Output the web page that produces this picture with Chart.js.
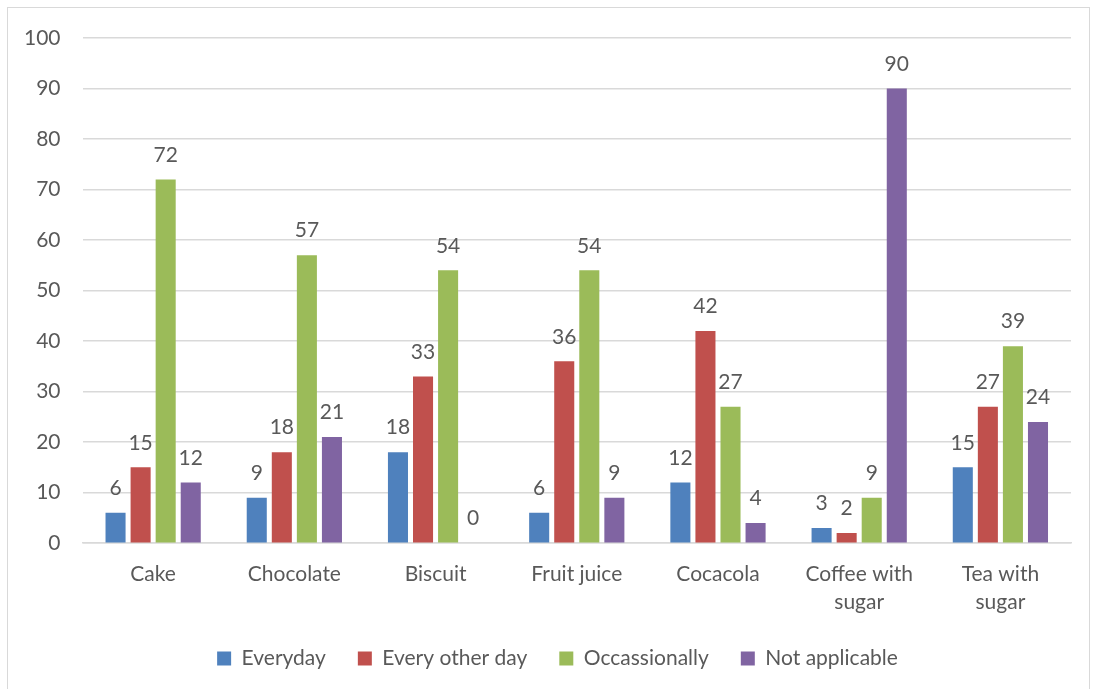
<!DOCTYPE html>
<html lang="en">
  <head>
    <meta charset="UTF-8" />
    <title>Sugar consumption frequency</title>
    <script src="https://cdn.jsdelivr.net/npm/chart.js@4"></script>
    <style>
      body { margin: 0; background: #fff; overflow: hidden; }
      #frame {
        position: absolute; left: 7px; top: 7px;
        width: 1083px; height: 690px;
        border: 1px solid #d9d9d9; box-sizing: border-box;
      }
      #wrap { position: absolute; left: 0; top: 0; width: 1093px; height: 689px; }
    </style>
  </head>
  <body>
    <div id="frame"></div>
    <div id="wrap"><canvas id="myChart"></canvas></div>

    <script>
      const categories = ['Cake', 'Chocolate', 'Biscuit', 'Fruit juice', 'Cocacola', ['Coffee with', 'sugar'], ['Tea with', 'sugar']]
      const everyday = [6, 9, 18, 6, 12, 3, 15]
      const everyOtherDay = [15, 18, 33, 36, 42, 2, 27]
      const occasionally = [72, 57, 54, 54, 27, 9, 39]
      const notApplicable = [12, 21, 0, 9, 4, 90, 24]

      const textColor = '#595959'
      const font = 'Lato, "Open Sans", sans-serif'

      // labels over each bar
      const valueLabels = {
        id: 'valueLabels',
        afterDatasetsDraw(chart) {
          const ctx = chart.ctx
          ctx.save()
          ctx.fillStyle = textColor
          ctx.font = '21px ' + font
          ctx.textAlign = 'center'
          ctx.textBaseline = 'bottom'
          chart.data.datasets.forEach((ds, i) => {
            chart.getDatasetMeta(i).data.forEach((bar, j) => {
              ctx.fillText(ds.data[j], bar.x, bar.y - 14)
            })
          })
          ctx.restore()
        }
      }

      // legend sits a little right of centre in the original
      const legendNudge = {
        id: 'legendNudge',
        afterLayout(chart) {
          chart.legend.left += 21
          chart.legend.right += 21
        }
      }

      const ctx = document.getElementById('myChart').getContext('2d')
      const myChart = new Chart(ctx, {
        type: 'bar',
        data: {
          labels: categories,
          datasets: [
            { label: 'Everyday', data: everyday, backgroundColor: '#4F81BD' },
            { label: 'Every other day', data: everyOtherDay, backgroundColor: '#C0504D' },
            { label: 'Occassionally', data: occasionally, backgroundColor: '#9BBB59' },
            { label: 'Not applicable', data: notApplicable, backgroundColor: '#8064A2' }
          ]
        },
        options: {
          responsive: true,
          maintainAspectRatio: false,
          animation: false,
          layout: { padding: { left: 2, right: 22, top: 38, bottom: 10 } },
          datasets: { bar: { categoryPercentage: 0.71, barPercentage: 0.8 } },
          scales: {
            x: {
              grid: { display: false, drawTicks: false },
              border: { color: '#d9d9d9', width: 1.5 },
              ticks: { color: textColor, font: { family: font, size: 21, lineHeight: 1.33 }, padding: 17 },
              // drop the spare padding under the labels so the plot reaches down further
              afterFit(scale) { scale.height -= 17 }
            },
            y: {
              min: 0,
              max: 100,
              ticks: { stepSize: 10, color: textColor, font: { family: font, size: 21 }, padding: 22 },
              grid: { color: '#d9d9d9', lineWidth: 1.5, drawTicks: false },
              border: { display: false }
            }
          },
          plugins: {
            legend: {
              position: 'bottom',
              labels: {
                color: textColor,
                font: { family: font, size: 21 },
                boxWidth: 14,
                boxHeight: 14,
                padding: 32
              }
            },
            tooltip: { enabled: false }
          }
        },
        plugins: [valueLabels, legendNudge]
      })
    </script>
  </body>
</html>
